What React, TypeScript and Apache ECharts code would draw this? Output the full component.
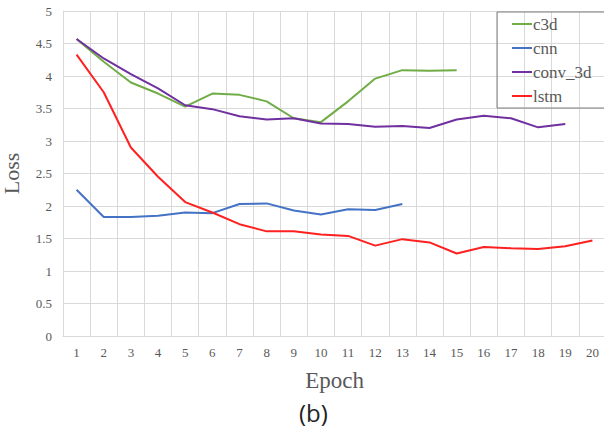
import React, { useEffect, useRef } from "react";
import * as echarts from "echarts";

const epochs = ["1","2","3","4","5","6","7","8","9","10","11","12","13","14","15","16","17","18","19","20"];
const c3d = [4.57, 4.22, 3.90, 3.73, 3.53, 3.73, 3.71, 3.61, 3.35, 3.29, 3.61, 3.96, 4.09, 4.08, 4.09];
const cnn = [2.25, 1.83, 1.83, 1.85, 1.90, 1.89, 2.03, 2.04, 1.93, 1.87, 1.95, 1.94, 2.03];
const conv3d = [4.57, 4.27, 4.03, 3.81, 3.55, 3.49, 3.38, 3.33, 3.35, 3.27, 3.26, 3.22, 3.23, 3.20, 3.33, 3.39, 3.35, 3.21, 3.26];
const lstm = [4.33, 3.75, 2.90, 2.45, 2.06, 1.90, 1.72, 1.61, 1.61, 1.56, 1.54, 1.39, 1.49, 1.44, 1.27, 1.37, 1.35, 1.34, 1.38, 1.47];

const seriesNames = ["c3d", "cnn", "conv_3d", "lstm"];
const seriesColors = ["#70AD47", "#4472C4", "#7030A0", "#FF2020"];
const seriesData = [c3d, cnn, conv3d, lstm];

export default function App() {
  const ref = useRef<HTMLDivElement>(null);
  useEffect(() => {
    if (!ref.current) return;
    const chart = echarts.init(ref.current, undefined, { renderer: "svg" });
    const serif = "Liberation Serif";
    chart.setOption({
      animation: false,
      backgroundColor: "#ffffff",
      grid: { left: 63, top: 11, right: -2, bottom: 102, outerBoundsMode: "none", containLabel: false },
      legend: {
        orient: "vertical",
        left: 497,
        top: 12,
        padding: [3, 40, 3, 15],
        itemGap: 6,
        itemWidth: 20,
        itemHeight: 2,
        icon: "rect",
        borderColor: "#7f7f7f",
        borderWidth: 1,
        textStyle: { fontFamily: serif, fontSize: 17, color: "#595959", lineHeight: 18, padding: [0, 0, 0, -4] },
        data: seriesNames,
      },
      xAxis: {
        type: "category",
        data: epochs,
        boundaryGap: true,
        name: "Epoch",
        nameLocation: "middle",
        nameGap: 33,
        nameMoveOverlap: false,
        nameTextStyle: { fontFamily: serif, fontSize: 23, color: "#595959" },
        axisLine: { show: true, lineStyle: { color: "#d9d9d9", width: 1 } },
        axisTick: { show: false },
        axisLabel: { fontFamily: serif, fontSize: 13, color: "#595959", margin: 10, interval: 0 },
        splitLine: { show: true, interval: 0, lineStyle: { color: "#d9d9d9", width: 1 } },
      },
      yAxis: {
        type: "value",
        min: 0,
        max: 5,
        interval: 0.5,
        name: "Loss",
        nameLocation: "middle",
        nameGap: 41,
        nameMoveOverlap: false,
        nameTextStyle: { fontFamily: serif, fontSize: 22, color: "#595959" },
        axisLine: { show: true, lineStyle: { color: "#d9d9d9", width: 1 } },
        axisTick: { show: false },
        axisLabel: { fontFamily: serif, fontSize: 13, color: "#595959", margin: 11 },
        splitLine: { show: true, lineStyle: { color: "#d9d9d9", width: 1 } },
      },
      series: seriesNames.map((n, i) => ({
        name: n,
        type: "line",
        data: seriesData[i],
        color: seriesColors[i],
        showSymbol: false,
        symbol: "none",
        lineStyle: { width: 2, color: seriesColors[i] },
      })),
      graphic: [
        {
          type: "text",
          left: 299,
          top: 400,
          style: { text: "(b)", font: "24px 'Open Sans'", fill: "#222222" },
        },
      ],
    });
    return () => chart.dispose();
  }, []);
  return <div ref={ref} style={{ width: 604, height: 438, position: "absolute", left: 0, top: 0 }} />;
}
